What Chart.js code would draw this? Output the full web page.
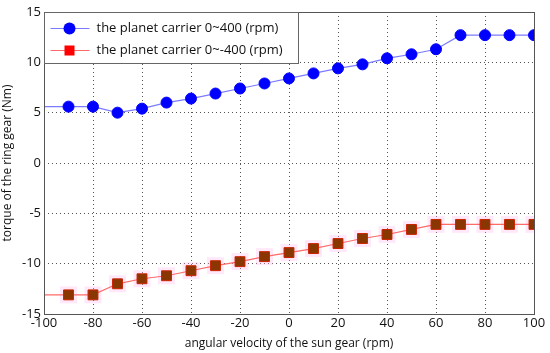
<!DOCTYPE html>
<html>
<head>
<meta charset="utf-8">
<script src="https://cdn.jsdelivr.net/npm/chart.js@4/dist/chart.umd.min.js"></script>
<style>
  html, body { margin: 0; padding: 0; background: #fff; }
  #wrap { width: 550px; height: 353px; position: relative; }
</style>
</head>
<body>
<div id="wrap"><canvas id="torque-chart"></canvas></div>
<script>
// sun gear angular velocity (rpm)
const sunSpeed = [-100, -90, -80, -70, -60, -50, -40, -30, -20, -10, 0, 10, 20, 30, 40, 50, 60, 70, 80, 90, 100];
// ring gear torque (Nm), planet carrier 0~400 rpm
const torquePositive = [5.6, 5.6, 5.6, 5.0, 5.4, 6.0, 6.4, 6.9, 7.4, 7.9, 8.4, 8.9, 9.4, 9.8, 10.4, 10.8, 11.3, 12.7, 12.7, 12.7, 12.7];
// ring gear torque (Nm), planet carrier 0~-400 rpm
const torqueNegative = [-13.1, -13.1, -13.1, -12.0, -11.5, -11.2, -10.7, -10.2, -9.8, -9.3, -8.9, -8.5, -8.0, -7.5, -7.1, -6.6, -6.1, -6.1, -6.1, -6.1, -6.1];
const seriesLabels = ["the planet carrier 0~400 (rpm)", "the planet carrier 0~-400 (rpm)"];
const xTicks = [-100, 100, 20];
const yTicks = [-15, 15, 5];

const FONT = "'Open Sans', 'Noto Sans', sans-serif";

// first sample is drawn without a marker
const markerSizes = r => sunSpeed.map((v, i) => i === 0 ? 0 : r);

// frame around the plot + legend box in the upper left corner
const framePlugin = {
    id: "frame",
    afterDraw(chart) {
        const ctx = chart.ctx;
        const a = chart.chartArea;
        ctx.save();
        ctx.strokeStyle = "#555";
        ctx.lineWidth = 1;
        ctx.strokeRect(Math.round(a.left) + 0.5, Math.round(a.top) + 0.5, Math.round(a.right - a.left), Math.round(a.bottom - a.top));

        // legend
        const bx = Math.round(a.left) + 0.5, by = Math.round(a.top) + 0.5;
        ctx.fillStyle = "#fff";
        ctx.fillRect(bx, by, 254, 51);
        ctx.strokeStyle = "#666";
        ctx.strokeRect(bx, by, 254, 51);
        const items = [chart.data.datasets[0], chart.data.datasets[1]];
        items.forEach((ds, i) => {
            const y = by + 16 + i * 22;
            ctx.strokeStyle = ds.borderColor;
            ctx.lineWidth = 1;
            ctx.beginPath();
            ctx.moveTo(bx + 6, y);
            ctx.lineTo(bx + 45, y);
            ctx.stroke();
            ctx.fillStyle = ds.pointBackgroundColor;
            if (i === 0) {
                ctx.beginPath();
                ctx.arc(bx + 25, y, 6, 0, Math.PI * 2);
                ctx.fill();
            } else {
                ctx.fillStyle = "#ff0000";
                ctx.fillRect(bx + 20, y - 5, 10, 10);
            }
            ctx.fillStyle = "#111";
            ctx.font = "13px " + FONT;
            ctx.textBaseline = "middle";
            ctx.fillText(ds.label, bx + 52, y);
        });
        ctx.restore();
    }
};

new Chart("torque-chart", {
    type: "line",
    data: {
        labels: sunSpeed,
        datasets: [
            {
                label: seriesLabels[0],
                data: torquePositive,
                borderColor: "#7b7bff",
                borderWidth: 1.2,
                pointStyle: "circle",
                pointRadius: markerSizes(5.5),
                pointBackgroundColor: "#0000ff",
                pointBorderColor: "#0000ff",
                pointBorderWidth: 1,
                tension: 0
            },
            {
                label: seriesLabels[1],
                data: torqueNegative,
                borderColor: "#ff6a6a",
                borderWidth: 1.2,
                pointStyle: "rect",
                pointRadius: markerSizes(7),
                pointBackgroundColor: "#8a3600",
                pointBorderColor: "#cc2200",
                pointBorderWidth: 1,
                tension: 0
            },
            {
                // faint pink halo behind the square markers
                label: "halo",
                data: torqueNegative,
                showLine: false,
                pointStyle: "rect",
                pointRadius: markerSizes(12),
                pointBackgroundColor: "rgba(255,180,240,0.3)",
                pointBorderWidth: 0,
                order: 5
            }
        ]
    },
    options: {
        responsive: true,
        maintainAspectRatio: false,
        animation: false,
        events: [],
        layout: { padding: { top: 7, right: 16, left: 0, bottom: 0 } },
        plugins: { legend: { display: false }, tooltip: { enabled: false } },
        scales: {
            x: {
                type: "linear",
                min: xTicks[0],
                max: xTicks[1],
                ticks: { stepSize: xTicks[2], color: "#111", font: { family: FONT, size: 13 }, padding: 1, maxRotation: 0 },
                grid: { color: "#555", drawTicks: false },
                border: { display: false, dash: [1, 3] },
                title: { display: true, text: "angular velocity of the sun gear (rpm)", color: "#111", font: { family: FONT, size: 12 }, padding: { top: 0, bottom: 2 } },
                afterFit(scale) { scale.height = 39; }
            },
            y: {
                min: yTicks[0],
                max: yTicks[1],
                ticks: { stepSize: yTicks[2], color: "#111", font: { family: FONT, size: 13 }, padding: 3 },
                grid: { color: "#555", drawTicks: false },
                border: { display: false, dash: [1, 3] },
                title: { display: true, text: "torque of the ring gear (Nm)", color: "#111", font: { family: FONT, size: 12 }, padding: { top: 0, bottom: 1 } },
                afterFit(scale) { scale.width = 44; }
            }
        }
    },
    plugins: [framePlugin]
});
</script>
</body>
</html>
